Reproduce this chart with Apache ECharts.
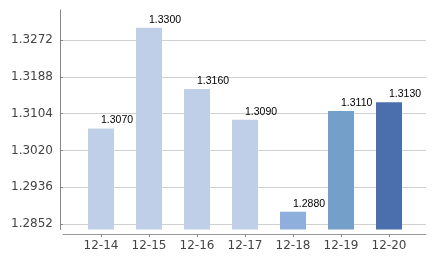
<!DOCTYPE html>
<html>
<head>
<meta charset="utf-8">
<script src="https://cdn.jsdelivr.net/npm/echarts@6/dist/echarts.min.js"></script>
<style>html,body{margin:0;padding:0;background:#fff}#c{width:438px;height:260px}</style>
</head>
<body>
<div id="c"></div>
<script>
var categories = ['12-14','12-15','12-16','12-17','12-18','12-19','12-20'];
var values = [1.3070, 1.3300, 1.3160, 1.3090, 1.2880, 1.3110, 1.3130];
var barColors = ['#BFCFE8','#BFCFE8','#BFCFE8','#BFCFE8','#8EAEDB','#739FC9','#4A6FAC'];
var tickMin = 1.2852, tickMax = 1.3272, tickStep = 0.0084;

// pixel scale from label grid: 184px per 0.042
var pxPerUnit = 184 / (tickMax - tickMin);
var barMin = tickMin - 5.5 / pxPerUnit;
var barMax = barMin + 219.5 / pxPerUnit;

var chart = echarts.init(document.getElementById('c'));
chart.setOption({
  animation: false,
  grid: [
    {left: 77, right: 25, top: 10, bottom: 30.5},
    {left: 63, right: 12, top: 40, bottom: 36}
  ],
  xAxis: [
    {gridIndex: 0, type: 'category', data: categories, offset: 4.5,
     axisLine: {show: false},
     axisTick: {show: true, alignWithLabel: true, length: 3, lineStyle: {color: '#888'}},
     axisLabel: {color: '#444', fontFamily: 'DejaVu Sans', fontSize: 12, margin: 6},
     splitLine: {show: false}},
    {gridIndex: 1, type: 'value', min: 0, max: 1, offset: 10,
     axisLine: {show: true, lineStyle: {color: '#999'}},
     axisTick: {show: false}, axisLabel: {show: false}, splitLine: {show: false}}
  ],
  yAxis: [
    {gridIndex: 0, type: 'value', min: barMin, max: barMax, position: 'left', offset: 17,
     axisLine: {show: true, lineStyle: {color: '#888'}},
     axisTick: {show: false}, axisLabel: {show: false}, splitLine: {show: false}},
    {gridIndex: 1, type: 'value', min: tickMin, max: tickMax, interval: tickStep, offset: 3,
     axisLine: {show: false},
     axisTick: {show: true, length: 3, lineStyle: {color: '#888'}},
     axisLabel: {color: '#444', fontFamily: 'DejaVu Sans', fontSize: 12, margin: 7,
                 formatter: function (v) { return v.toFixed(4); }},
     splitLine: {show: true, lineStyle: {color: '#d0d0d0'}}}
  ],
  series: [{
    type: 'bar', xAxisIndex: 0, yAxisIndex: 0, barWidth: 26,
    data: values.map(function (v, i) { return {value: v, itemStyle: {color: barColors[i]}}; }),
    label: {show: true, position: [13, -8], align: 'left', verticalAlign: 'middle',
            color: '#000', fontFamily: '"Liberation Sans", sans-serif', fontSize: 10.5,
            formatter: function (p) { return p.value.toFixed(4); }}
  }]
});
</script>
</body>
</html>
